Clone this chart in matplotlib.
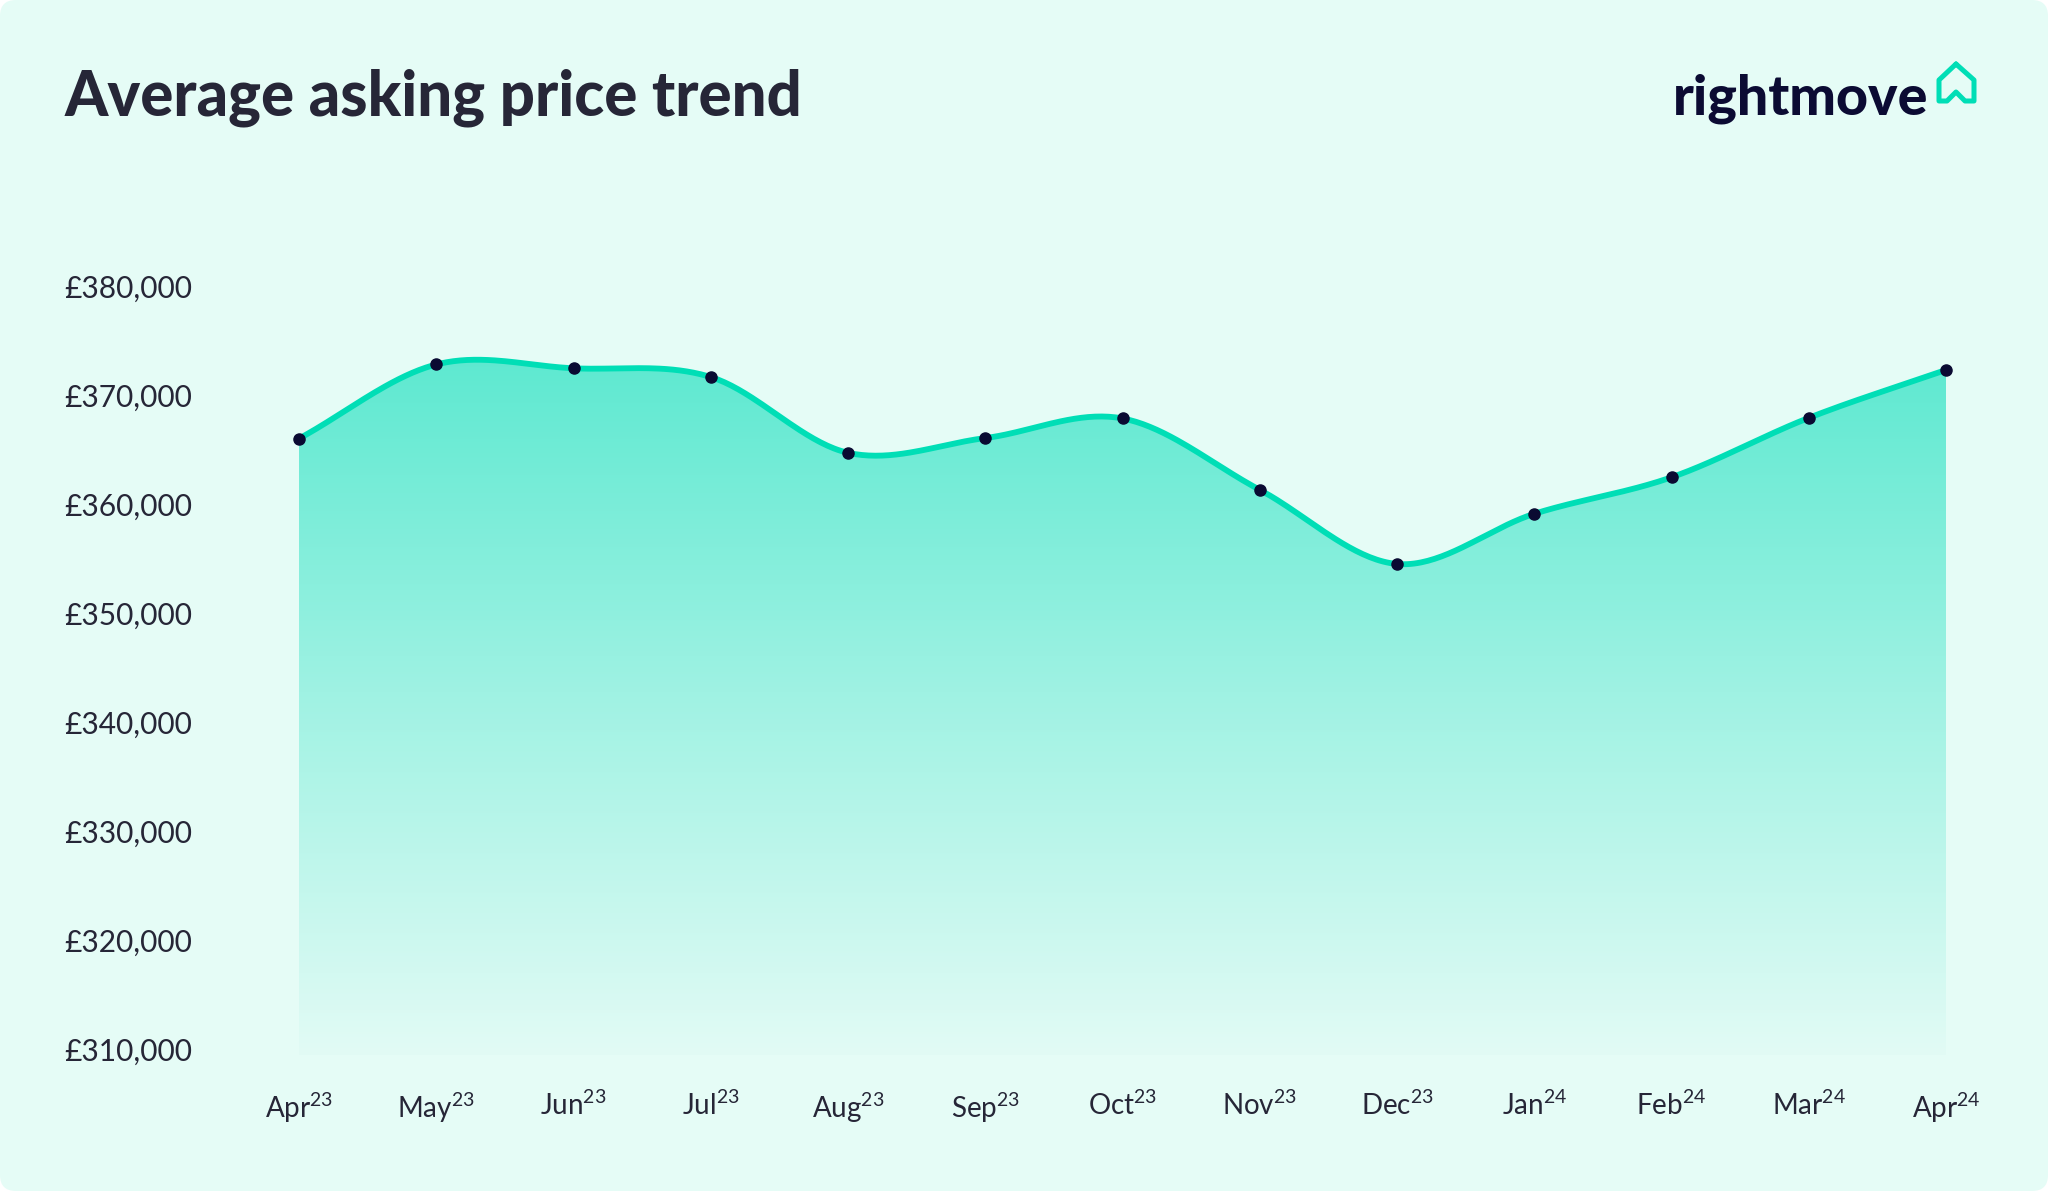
import numpy as np
import matplotlib
matplotlib.use("Agg")
import matplotlib.pyplot as plt
from matplotlib.patches import FancyBboxPatch, Polygon
from matplotlib.lines import Line2D
from matplotlib.transforms import IdentityTransform
from matplotlib.colors import LinearSegmentedColormap
import matplotlib.ticker as mticker

# ---------------- data ----------------
months = ["Apr", "May", "Jun", "Jul", "Aug", "Sep", "Oct", "Nov", "Dec", "Jan", "Feb", "Mar", "Apr"]
years = ["23", "23", "23", "23", "23", "23", "23", "23", "23", "24", "24", "24", "24"]
prices = [366000, 372800, 372450, 371650, 364700, 366050, 367850, 361300, 354500, 359100, 362450, 367900, 372300]
yticks = [310000, 320000, 330000, 340000, 350000, 360000, 370000, 380000]
title = "Average asking price trend"
brand = "rightmove"

# ---------------- style ----------------
BG = "#E5FCF6"
TEAL = "#00DEB6"
DOT = "#0A0A32"
TXT = "#262637"
plt.rcParams["font.family"] = ["Lato", "DejaVu Sans"]
plt.rcParams["mathtext.fontset"] = "custom"
plt.rcParams["mathtext.rm"] = "Lato"
plt.rcParams["mathtext.default"] = "regular"

W, H = 2048, 1191
fig = plt.figure(figsize=(W / 100, H / 100), dpi=100)
fig.patch.set_facecolor("white")
fig.add_artist(FancyBboxPatch((0, 0), W, H, boxstyle="round,pad=0,rounding_size=16",
                              transform=IdentityTransform(), facecolor=BG, edgecolor="none", zorder=0))

ax_l, ax_r = 299 / W, 1946 / W
ax_t, ax_b = 1 - 286 / H, 1 - 1055 / H
ax = fig.add_axes([ax_l, ax_b, ax_r - ax_l, ax_t - ax_b])
ax.set_facecolor("none")
for s in ax.spines.values():
    s.set_visible(False)

x = np.arange(len(prices), dtype=float)
y = np.array(prices, dtype=float)
ymin = 309450
ax.set_xlim(0, len(prices) - 1)
ax.set_ylim(ymin, 380000)

# Catmull-Rom style smoothing through the data points
def smooth(xv, yv, n=40):
    xs, ys = [], []
    N = len(yv)
    m = np.zeros(N)
    for i in range(N):
        if i == 0:
            m[i] = yv[1] - yv[0]
        elif i == N - 1:
            m[i] = yv[-1] - yv[-2]
        else:
            m[i] = (yv[i + 1] - yv[i - 1]) / 2
    for i in range(N - 1):
        t = np.linspace(0, 1, n, endpoint=(i == N - 2))
        h00 = 2 * t**3 - 3 * t**2 + 1
        h10 = t**3 - 2 * t**2 + t
        h01 = -2 * t**3 + 3 * t**2
        h11 = t**3 - t**2
        xs.append(xv[i] + t * (xv[i + 1] - xv[i]))
        ys.append(h00 * yv[i] + h10 * m[i] + h01 * yv[i + 1] + h11 * m[i + 1])
    return np.concatenate(xs), np.concatenate(ys)

sx, sy = smooth(x, y)

# gradient fill under curve
poly_xy = np.vstack([np.column_stack([sx, sy]), [[sx[-1], ymin], [sx[0], ymin]]])
poly = Polygon(poly_xy, closed=True, facecolor="none", edgecolor="none", transform=ax.transData)
ax.add_patch(poly)
cmap = LinearSegmentedColormap.from_list("g", ["#E2FBF5", "#9FF2E3", "#58E8CF"])
grad = np.linspace(0, 1, 256).reshape(-1, 1)
im = ax.imshow(grad, extent=[0, len(prices) - 1, ymin, 376000], origin="lower", aspect="auto",
               cmap=cmap, zorder=1, interpolation="bicubic")
im.set_clip_path(poly)

ax.plot(sx, sy, color=TEAL, lw=4.2, zorder=3, solid_capstyle="round", clip_on=False)
ax.plot(x, y, "o", color=DOT, ms=8, zorder=4, clip_on=False)

# ticks
ax.set_yticks(yticks)
ax.yaxis.set_major_formatter(mticker.FuncFormatter(lambda v, p: "£{:,.0f}".format(v)))
ax.set_xticks(x)
ax.set_xticklabels([f"{m}$^{{{yy}}}$" for m, yy in zip(months, years)])
ax.tick_params(axis="y", length=0, pad=77, labelsize=21.5, labelcolor=TXT)
ax.tick_params(axis="x", length=0, pad=26, labelsize=20, labelcolor=TXT)
for lab in ax.get_yticklabels():
    lab.set_horizontalalignment("right")

# title
fig.text(65 / W, 1 - 115 / H, title, fontsize=44.5, fontweight="black", color=TXT,
         ha="left", va="baseline")

# logo
fig.text(1928 / W, 1 - 114 / H, brand, fontsize=40, fontweight="black", color="#0B0B33",
         ha="right", va="baseline")
hx = [1956, 1939, 1939, 1947, 1956, 1965, 1974, 1974, 1956]
hy = [64, 80, 101, 101, 92, 101, 101, 80, 64]
fig.add_artist(Line2D([v / W for v in hx], [1 - v / H for v in hy], transform=fig.transFigure,
                      color=TEAL, lw=3.6, solid_joinstyle="round", solid_capstyle="round"))

fig.savefig("out.png", dpi=100, facecolor=fig.get_facecolor())
